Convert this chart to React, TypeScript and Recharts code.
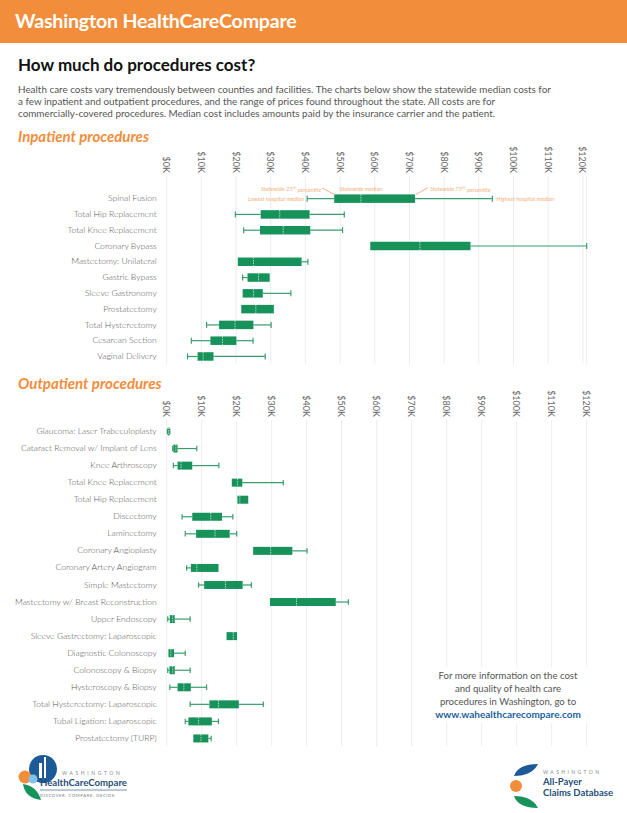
import React from "react";
import { BarChart, Bar, XAxis, YAxis, CartesianGrid } from "recharts";

// cost axis, in thousands of dollars
const costTicks = [0, 10, 20, 30, 40, 50, 60, 70, 80, 90, 100, 110, 120];

const inpatientProcedures = [
  "Spinal Fusion",
  "Total Hip Replacement",
  "Total Knee Replacement",
  "Coronary Bypass",
  "Mastectomy: Unilateral",
  "Gastric Bypass",
  "Sleeve Gastronomy",
  "Prostatectomy",
  "Total Hysterectomy",
  "Cesarean Section",
  "Vaginal Delivery",
];
const inpatientLow = [40.5, 19.8, 22.2, 58.7, 20.5, 21.9, 21.9, 21.5, 11.5, 7.1, 6];
const inpatientQ1 = [48.3, 27.1, 26.9, 58.7, 20.5, 23.3, 21.9, 21.5, 15.1, 12.6, 8.9];
const inpatientMedian = [56, 32.6, 33.6, 73, 25, 26.5, 25, 25.7, 19.7, 16.1, 10.5];
const inpatientQ3 = [71.6, 41.2, 41.4, 87.6, 38.9, 29.7, 27.7, 30.9, 25, 20.1, 13.5];
const inpatientHigh = [93.9, 51.2, 50.7, 121.1, 40.7, 29.7, 35.8, 30.9, 30.1, 24.9, 28.4];

const outpatientProcedures = [
  "Glaucoma: Laser Trabeculoplasty",
  "Cataract Removal w/ Implant of Lens",
  "Knee Arthroscopy",
  "Total Knee Replacement",
  "Total Hip Replacement",
  "Discectomy",
  "Laminectomy",
  "Coronary Angioplasty",
  "Coronary Artery Angiogram",
  "Simple Mastectomy",
  "Mastectomy w/ Breast Reconstruction",
  "Upper Endoscopy",
  "Sleeve Gastrectomy: Laparoscopic",
  "Diagnostic Colonoscopy",
  "Colonoscopy & Biopsy",
  "Hysteroscopy & Biopsy",
  "Total Hysterectomy: Laparoscopic",
  "Tubal Ligation: Laparoscopic",
  "Prostatectomy (TURP)",
];
const outpatientLow = [0.2, 1.7, 1.9, 18.6, 20.2, 4.4, 5.3, 24.7, 5.7, 9.1, 29.5, 0.3, 17.1, 0.5, 0.3, 0.9, 6.7, 5.3, 7.6];
const outpatientQ1 = [0.3, 1.9, 3.1, 18.6, 20.2, 7.3, 8.4, 24.7, 6.9, 10.7, 29.5, 0.9, 17.1, 0.5, 0.8, 3.1, 12.2, 6.2, 7.6];
const outpatientMedian = [0.5, 2.6, 4.1, 20.2, 20.9, 12.6, 13.8, 29.7, 8.6, 16.8, 37.1, 1.7, 19, 1.2, 1.7, 4.9, 14.8, 9.1, 9.8];
const outpatientQ3 = [0.8, 3.1, 7.3, 21.6, 23.3, 15.8, 18, 35.9, 14.8, 21.7, 48.3, 2.3, 20.1, 2.1, 2.3, 6.9, 20.6, 12.9, 11.9];
const outpatientHigh = [0.9, 8.6, 14.9, 33.3, 23.3, 18.9, 20, 40.1, 14.8, 24.2, 51.9, 6.7, 20.1, 5.3, 6.7, 11.4, 27.6, 14.8, 12.7];

const annotatedRow = "Spinal Fusion";

const ORANGE = "#f28d3b";
const GREEN = "#17925a";
const WHISKER = "#3a9d6c";
const NOTE = "#f3b27e";
const FONT = "Lato, 'Open Sans', sans-serif";

type Row = { name: string; low: number; q1: number; med: number; q3: number; high: number };

const buildRows = (names: string[], low: number[], q1: number[], med: number[], q3: number[], high: number[]): Row[] =>
  names.map((name, i) => ({ name, low: low[i], q1: q1[i], med: med[i], q3: q3[i], high: high[i] }));

const inpatientRows = buildRows(inpatientProcedures, inpatientLow, inpatientQ1, inpatientMedian, inpatientQ3, inpatientHigh);
const outpatientRows = buildRows(outpatientProcedures, outpatientLow, outpatientQ1, outpatientMedian, outpatientQ3, outpatientHigh);

const Note = ({ x, y, anchor, children }: any) => (
  <text x={x} y={y} fontSize={5.8} fill={NOTE} fontFamily={FONT} fontStyle="italic" textAnchor={anchor} dominantBaseline="central">
    {children}
  </text>
);

// the bar spans low..high; inner positions are placed along the same scale
const BoxShape = (props: any) => {
  const { x, y, width, height, payload, cap } = props;
  const { low, q1, med, q3, high, name } = payload as Row;
  const px = (v: number) => x + ((v - low) / (high - low)) * width;
  const cy = y + height / 2;
  const bx1 = px(q1);
  const bx2 = px(q3);
  const m = px(med);
  return (
    <g>
      {low < q1 && (
        <g stroke={WHISKER} strokeWidth={1.2}>
          <line x1={px(low)} x2={bx1} y1={cy} y2={cy} />
          <line x1={px(low)} x2={px(low)} y1={cy - cap / 2} y2={cy + cap / 2} />
        </g>
      )}
      {high > q3 && (
        <g stroke={WHISKER} strokeWidth={1.2}>
          <line x1={bx2} x2={px(high)} y1={cy} y2={cy} />
          <line x1={px(high)} x2={px(high)} y1={cy - cap / 2} y2={cy + cap / 2} />
        </g>
      )}
      <rect x={bx1} y={y} width={Math.max(bx2 - bx1, 1)} height={height} fill={GREEN} />
      <line x1={m} x2={m} y1={y} y2={y + height} stroke="#ffffff" strokeWidth={0.8} strokeDasharray="1.5 1" opacity={0.85} />
      {name === annotatedRow && (
        <g>
          <Note x={bx1 - 13} y={cy - 10} anchor="end">
            Statewide 25<tspan fontSize={4} dy={-1.5}>th</tspan><tspan dy={1.5}> percentile</tspan>
          </Note>
          <line x1={bx1 - 12} y1={cy - 10.5} x2={bx1} y2={y} stroke="#f08a5a" strokeWidth={0.7} />
          <Note x={m} y={cy - 10} anchor="middle">Statewide median</Note>
          <Note x={bx2 + 15} y={cy - 10} anchor="start">
            Statewide 75<tspan fontSize={4} dy={-1.5}>th</tspan><tspan dy={1.5}> percentile</tspan>
          </Note>
          <line x1={bx2 + 1} y1={y} x2={bx2 + 13} y2={cy - 11} stroke="#f08a5a" strokeWidth={0.7} />
          <Note x={px(low) - 3} y={cy} anchor="end">Lowest hospital median</Note>
          <Note x={px(high) + 4} y={cy} anchor="start">Highest hospital median</Note>
        </g>
      )}
    </g>
  );
};

const CostTick = ({ x, y, payload }: any) => (
  <text
    x={x}
    y={y}
    transform={`rotate(90, ${x}, ${y})`}
    textAnchor="end"
    dominantBaseline="central"
    fontSize={9}
    fill="#666"
    fontFamily={FONT}
  >
    {`$${payload.value}K`}
  </text>
);

const ProcedureTick = ({ x, y, payload }: any) => (
  <text x={x} y={y} textAnchor="end" dominantBaseline="central" fontSize={8.6} fill="#555" fontFamily={FONT} fontWeight={300}>
    {payload.value}
  </text>
);

type BoxChartProps = {
  rows: Row[];
  height: number;
  axisHeight: number;
  padTop: number;
  bottom: number;
  barSize: number;
  cap: number;
};

const BoxChart = ({ rows, height, axisHeight, padTop, bottom, barSize, cap }: BoxChartProps) => (
  <BarChart
    width={627}
    height={height}
    data={rows}
    layout="vertical"
    margin={{ top: 0, right: 40.3, bottom, left: 0 }}
    barCategoryGap={0}
  >
    <CartesianGrid vertical horizontal={false} stroke="#ececec" />
    <XAxis
      type="number"
      orientation="top"
      domain={[0, 120]}
      ticks={costTicks}
      interval={0}
      height={axisHeight}
      tickLine={false}
      axisLine={false}
      tickSize={0}
      tickMargin={3}
      tick={<CostTick />}
    />
    <YAxis
      type="category"
      dataKey="name"
      width={166.7}
      padding={{ top: padTop, bottom: 0 }}
      tickLine={false}
      axisLine={false}
      tickSize={0}
      tickMargin={10}
      interval={0}
      tick={<ProcedureTick />}
    />
    <Bar
      dataKey={(d: Row) => [d.low, d.high]}
      barSize={barSize}
      isAnimationActive={false}
      shape={(p: any) => <BoxShape {...p} cap={cap} />}
    />
  </BarChart>
);

const abs = (left: number, top: number): React.CSSProperties => ({ position: "absolute", left, top });

export default function App() {
  return (
    <div style={{ position: "relative", width: 627, height: 813, background: "#fff", overflow: "hidden", fontFamily: FONT }}>
      <style>{`body{margin:0}`}</style>
      <div style={{ ...abs(0, 0), width: 627, height: 43, background: ORANGE }} />
      <div style={{ ...abs(15, 9), color: "#fff", fontSize: 19.6, fontWeight: 700, letterSpacing: -0.2 }}>
        Washington HealthCareCompare
      </div>
      <div style={{ ...abs(18, 54), color: "#111", fontSize: 17, fontWeight: 700 }}>How much do procedures cost?</div>
      <div style={{ ...abs(18, 83), width: 600, color: "#555", fontSize: 9.9, lineHeight: "12px", whiteSpace: "nowrap" }}>
        Health care costs vary tremendously between counties and facilities. The charts below show the statewide median costs for
        <br />
        a few inpatient and outpatient procedures, and the range of prices found throughout the state. All costs are for
        <br />
        commercially-covered procedures. Median cost includes amounts paid by the insurance carrier and the patient.
      </div>
      <div style={{ ...abs(18, 127), color: ORANGE, fontSize: 15, fontWeight: 700, fontStyle: "italic" }}>Inpatient procedures</div>
      <div style={{ ...abs(18, 374), color: ORANGE, fontSize: 15, fontWeight: 700, fontStyle: "italic" }}>Outpatient procedures</div>

      <div style={abs(0, 140)}>
        <BoxChart rows={inpatientRows} height={230} axisHeight={36} padTop={14.4} bottom={6} barSize={8.5} cap={6} />
      </div>
      <div style={abs(0, 380)}>
        <BoxChart rows={outpatientRows} height={372} axisHeight={40} padTop={2.5} bottom={5.5} barSize={8} cap={5.5} />
      </div>

      <div
        style={{
          ...abs(424, 667),
          width: 168,
          background: "#fff",
          textAlign: "center",
          color: "#555",
          fontSize: 9.6,
          lineHeight: "13px",
          padding: "2px 0",
        }}
      >
        For more information on the cost
        <br />
        and quality of health care
        <br />
        procedures in Washington, go to
        <br />
        <span style={{ color: "#1f5f9e", fontWeight: 700, fontSize: 10 }}>www.wahealthcarecompare.com</span>
      </div>

      <svg style={abs(0, 750)} width={627} height={63}>
        <circle cx={43} cy={19} r={14} fill="#1d5a97" />
        <rect x={39} y={13} width={3} height={15} fill="#fff" />
        <rect x={44} y={7} width={2} height={21} fill="#fff" />
        <circle cx={25} cy={27} r={6.5} fill="#f28d3b" />
        <circle cx={33} cy={29} r={4.5} fill="#7fc3e8" />
        <path d="M23 34 q2 14 18 16 q-4 -14 -18 -16z" fill="#17925a" />
        <text x={62} y={25} fontSize={5} letterSpacing={2.6} fill="#888" fontFamily={FONT}>WASHINGTON</text>
        <text x={40} y={36} fontSize={9.6} fill="#1f4e7a" fontFamily={FONT} fontWeight={700}>HealthCareCompare</text>
        <line x1={40} x2={127} y1={40} y2={40} stroke="#1f4e7a" strokeWidth={0.6} />
        <text x={40} y={47} fontSize={4.2} letterSpacing={0.6} fill="#777" fontFamily={FONT}>DISCOVER. COMPARE. DECIDE.</text>

        <path d="M514 26 q4 -12 24 -12 q-6 12 -24 12z" fill="#1d5a97" />
        <circle cx={516} cy={36} r={6} fill="#f28d3b" />
        <path d="M514 46 q4 12 24 12 q-6 -12 -24 -12z" fill="#17925a" />
        <text x={543} y={24} fontSize={5} letterSpacing={2.4} fill="#888" fontFamily={FONT}>WASHINGTON</text>
        <text x={543} y={35} fontSize={9.5} fill="#1f4e7a" fontFamily={FONT} fontWeight={700}>All-Payer</text>
        <text x={543} y={46} fontSize={9.5} fill="#1f4e7a" fontFamily={FONT} fontWeight={700}>Claims Database</text>
      </svg>
    </div>
  );
}
